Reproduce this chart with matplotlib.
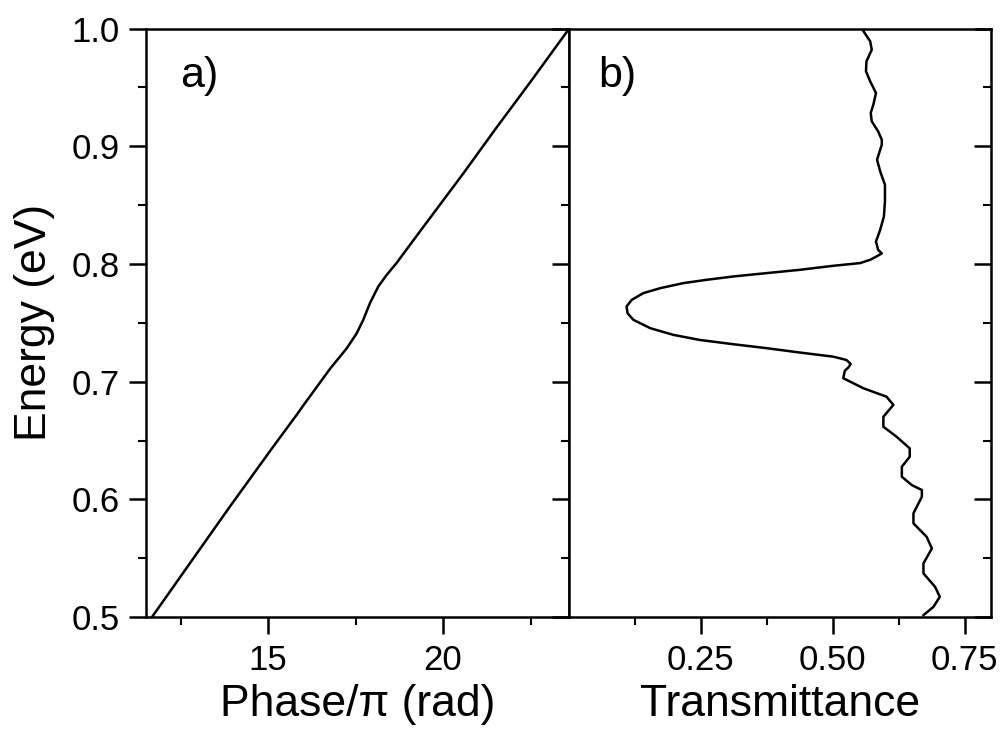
"""Phase and transmittance versus photon energy, two panels sharing the energy axis."""

import matplotlib
matplotlib.use('Agg')
import matplotlib.pyplot as plt
from matplotlib.ticker import FixedLocator, MultipleLocator, FormatStrFormatter

plt.rcParams['font.family'] = ['Liberation Sans', 'DejaVu Sans']

# panel a) phase / pi versus energy (eV)
phase = [11.68, 12.96, 13.91, 15.15, 15.82, 16.01, 16.77, 17.25, 17.53, 17.72,
         17.91, 18.15, 18.39, 18.67, 19.15, 20.58, 21.53, 22.48, 23.58]
phase_energy = [0.500, 0.554, 0.594, 0.645, 0.672, 0.680, 0.711, 0.7285, 0.741, 0.7526,
                0.7667, 0.7809, 0.7908, 0.8008, 0.8201, 0.877, 0.916, 0.954, 0.999]

# panel b) transmittance versus energy (eV)
trans = [0.672, 0.691, 0.703, 0.694, 0.672, 0.672, 0.688, 0.678, 0.653, 0.653,
         0.669, 0.669, 0.650, 0.631, 0.631, 0.646, 0.646, 0.621, 0.596, 0.596,
         0.615, 0.602, 0.558, 0.520, 0.523, 0.530, 0.534, 0.526, 0.501, 0.438,
         0.375, 0.311, 0.248, 0.198, 0.154, 0.122, 0.111, 0.109, 0.119, 0.141,
         0.173, 0.217, 0.261, 0.311, 0.375, 0.438, 0.501, 0.552, 0.571, 0.583,
         0.593, 0.586, 0.582, 0.590, 0.597, 0.599, 0.599, 0.590, 0.584, 0.593,
         0.593, 0.586, 0.574, 0.572, 0.577, 0.582, 0.571, 0.563, 0.564, 0.574,
         0.571, 0.555]
trans_energy = [0.5017, 0.5088, 0.5173, 0.5258, 0.5372, 0.5457, 0.5584, 0.5683, 0.5797, 0.5882,
                0.6023, 0.6080, 0.6122, 0.6193, 0.6278, 0.6363, 0.6434, 0.6533, 0.6618, 0.6703,
                0.6803, 0.6873, 0.6945, 0.7030, 0.7094, 0.7123, 0.7151, 0.7185, 0.7213, 0.7248,
                0.7285, 0.7319, 0.7355, 0.7398, 0.7455, 0.7526, 0.7582, 0.7639, 0.7696, 0.7753,
                0.7795, 0.7838, 0.7866, 0.7894, 0.7923, 0.7951, 0.7985, 0.8008, 0.8036, 0.8064,
                0.8090, 0.8121, 0.8191, 0.8291, 0.8404, 0.8532, 0.8673, 0.8787, 0.8886, 0.9014,
                0.9056, 0.9127, 0.9212, 0.9283, 0.9354, 0.9453, 0.9552, 0.9637, 0.9722, 0.9821,
                0.9892, 1.0]

fig = plt.figure(figsize=(10.08, 7.33), dpi=100)
ax1 = fig.add_axes([0.1448, 0.158, 0.4197, 0.803])
ax2 = fig.add_axes([0.5645, 0.158, 0.4186, 0.803])

ax1.plot(phase, phase_energy, color='black', lw=1.8, solid_joinstyle='round')
ax2.plot(trans, trans_energy, color='black', lw=1.8, solid_joinstyle='round')

ax1.set_xlim(11.51, 23.6)
ax2.set_xlim(0, 0.8)
for ax in (ax1, ax2):
    ax.set_ylim(0.5, 1.0)
    for sp in ax.spines.values():
        sp.set_linewidth(1.8)
    ax.yaxis.set_major_locator(MultipleLocator(0.1))
    ax.yaxis.set_minor_locator(MultipleLocator(0.05))
    ax.tick_params(which='major', length=12, width=1.8, labelsize=25, pad=7)
    ax.tick_params(which='minor', length=6, width=1.5)
    ax.tick_params(axis='x', which='both', direction='out', top=False)

ax1.xaxis.set_major_locator(FixedLocator([15, 20]))
ax1.xaxis.set_minor_locator(FixedLocator([12.5, 17.5, 22.5]))
ax1.yaxis.set_major_formatter(FormatStrFormatter('%.1f'))
ax1.tick_params(axis='y', which='both', left=True, right=True, direction='out')
# right-hand ticks of panel a) point inward, onto the shared spine
for t in ax1.yaxis.get_major_ticks() + ax1.yaxis.get_minor_ticks():
    t.tick2line.set_marker(0)

ax2.xaxis.set_major_locator(FixedLocator([0.25, 0.5, 0.75]))
ax2.xaxis.set_minor_locator(FixedLocator([0.125, 0.375, 0.625]))
ax2.xaxis.set_major_formatter(FormatStrFormatter('%.2f'))
ax2.tick_params(axis='y', which='both', left=False, right=True, labelleft=False,
                direction='in')

ax1.set_xlabel('Phase/π (rad)', fontsize=32, labelpad=5)
ax2.set_xlabel('Transmittance', fontsize=32, labelpad=5)
ax1.set_ylabel('Energy (eV)', fontsize=32, labelpad=12)

ax1.text(0.08, 0.92, 'a)', transform=ax1.transAxes, fontsize=31, va='center')
ax2.text(0.07, 0.92, 'b)', transform=ax2.transAxes, fontsize=31, va='center')

fig.savefig('out.png', dpi=100)
